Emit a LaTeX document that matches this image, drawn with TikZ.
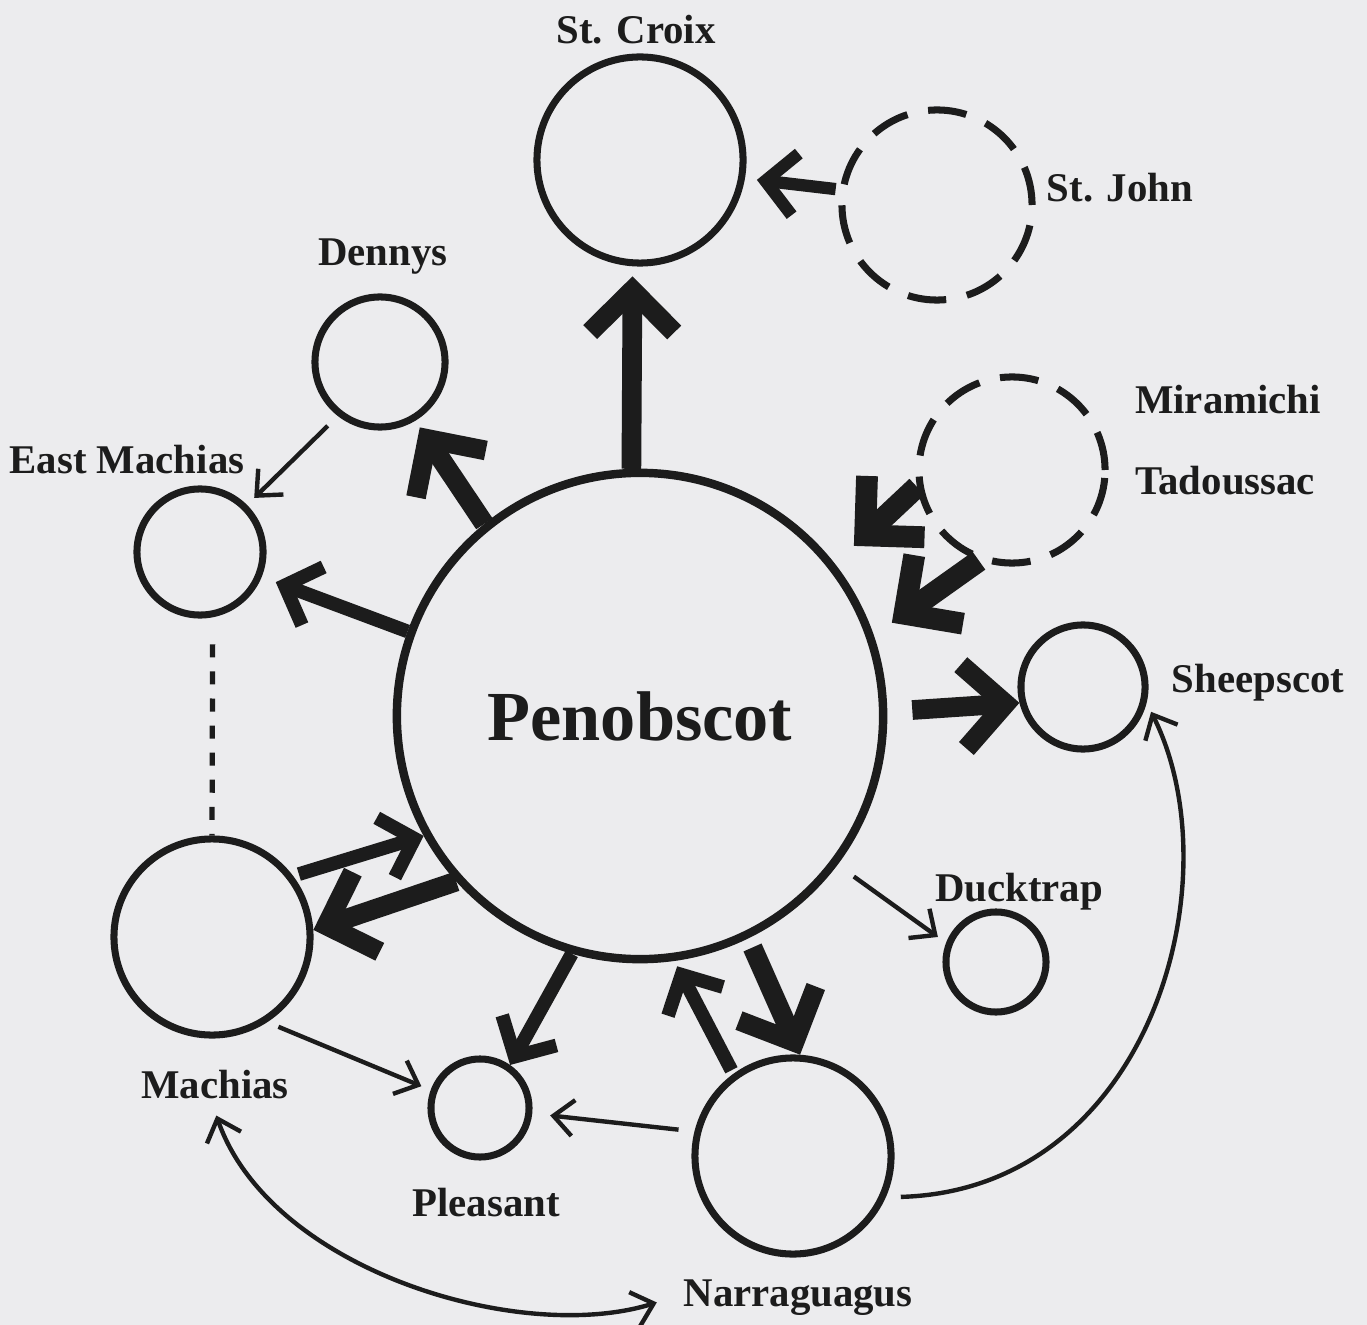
\documentclass[tikz,border=0pt]{standalone}
\usepackage{fontspec}
\setmainfont{Liberation Serif}
\usetikzlibrary{arrows.meta}

\definecolor{paper}{RGB}{236,236,238}
\definecolor{ink}{RGB}{28,28,28}

\begin{document}
\begin{tikzpicture}[x=0.01cm, y=-0.01cm, ink,
  river/.style={circle, draw, line width=2pt, inner sep=0pt},
  stray/.style={river, dash pattern=on 11pt off 6pt},
  lbl/.style={font=\fontsize{11.6}{14}\selectfont\bfseries},
  sbarb/.tip={Straight Barb[length=0.42cm, width=0.84cm]},
  mbarb/.tip={Straight Barb[length=0.3cm, width=0.62cm]},
  wbarb/.tip={Straight Barb[length=0.2cm, width=0.36cm]},
  strong/.style={line width=5.6pt, -sbarb},
  moderate/.style={line width=3.9pt, -mbarb},
  weak/.style={line width=1.25pt, -wbarb}]
  \fill[paper] (0,0) rectangle (1367,1325);
  \useasboundingbox (0,0) rectangle (1367,1325);

  % rivers
  \node[river, minimum size=4.86cm, line width=2.4pt,
        font=\fontsize{20}{24}\selectfont\bfseries] (pen) at (640,716) {Penobscot};
  \node[river, minimum size=2.06cm] (stc) at (640,160) {};
  \node[stray, minimum size=1.9cm] (stj) at (937,205) {};
  \node[river, minimum size=1.3cm] (den) at (380,362) {};
  \node[river, minimum size=1.26cm] (em) at (200,552) {};
  \node[stray, minimum size=1.86cm] (mir) at (1012,470) {};
  \node[river, minimum size=1.24cm] (shp) at (1083,687) {};
  \node[river, minimum size=1.0cm] (duc) at (996,962) {};
  \node[river, minimum size=1.96cm] (mac) at (212,937) {};
  \node[river, minimum size=0.98cm] (ple) at (480,1108) {};
  \node[river, minimum size=1.96cm] (nar) at (793,1156) {};

  % names
  \node[lbl] (stcl) at (636,30) {St. Croix};
  \node[lbl] (stjl) at (1120,188) {St. John};
  \node[lbl] (denl) at (383,257) {Dennys};
  \node[lbl] (eml) at (127,460) {East Machias};
  \node[lbl] (mirl) at (1228,400) {Miramichi};
  \node[lbl] (tadl) at (1225,481) {Tadoussac};
  \node[lbl] (shpl) at (1258,683) {Sheepscot};
  \node[lbl] (ducl) at (1019,892) {Ducktrap};
  \node[lbl] (macl) at (215,1085) {Machias};
  \node[lbl] (plel) at (486,1203) {Pleasant};
  \node[lbl] (narl) at (798,1298) {Narraguagus};

  % strays from the north
  \draw[strong, shorten >=0.1cm] (pen.92) -- (stc.-94);
  \draw[moderate, line width=3.5pt, shorten <=0.04cm, shorten >=0.12cm] (stj.171) -- (stc.-10);
  \draw[strong, line width=6.2pt, shorten >=0.26cm] (mir.190) -- (pen.38);
  \draw[strong, line width=6.2pt, shorten >=0.22cm] (mir.250) -- (pen.19);

  % west side
  \draw[strong, shorten >=0.08cm] (pen.129) -- (den.-59);
  \draw[moderate, shorten >=0.15cm] (pen.160) -- (em.-22);
  \draw[weak, shorten <=0.14cm, shorten >=0.1cm] (den.-128) -- (em.45);
  \draw[line width=1.5pt, dash pattern=on 3.7pt off 4pt, shorten <=0.27cm] (em.-79) -- (mac.north);
  \draw[moderate, shorten <=0.06cm] (mac.37) -- (pen.209);
  \draw[strong] (pen.222) -- (mac.4);

  % east and south
  \draw[strong, shorten <=0.25cm] (pen.1) -- (shp.194);
  \draw[weak, shorten <=0.2cm, shorten >=0.1cm] (pen.-37) -- (duc.159);
  \draw[moderate] (pen.254) -- (ple.55);
  \draw[moderate, shorten <=0.04cm, shorten >=0.06cm] (nar.126) -- (pen.-82.5);
  \draw[strong, shorten <=0.1cm] (pen.-64.5) -- (nar.86);
  \draw[weak, shorten <=0.12cm, shorten >=0.1cm] (mac.-57) -- (ple.160);
  \draw[weak, shorten <=0.16cm, shorten >=0.18cm] (nar.166) -- (ple.-6);
  \draw[weak, shorten <=0.15cm, shorten >=0.1cm] (nar.-24)
    .. controls (1150,1190) and (1235,880) .. (shp.-14);
  \draw[weak, wbarb-wbarb, shorten <=0.04cm, shorten >=0.15cm] (macl.south)
    .. controls (270,1270) and (520,1345) .. (narl.west);
\end{tikzpicture}
\end{document}
